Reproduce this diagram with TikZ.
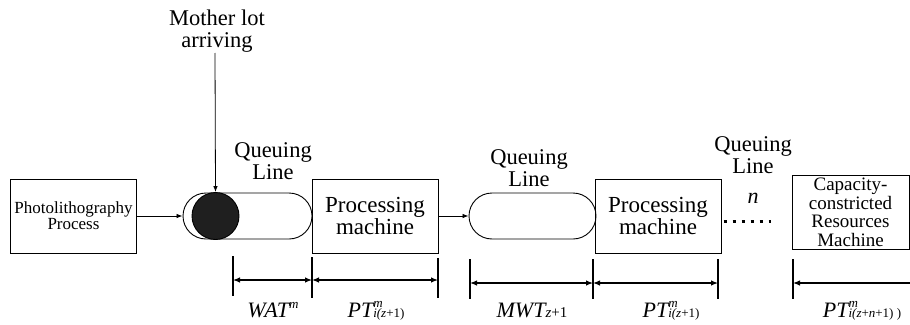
\documentclass[tikz,border=0pt]{standalone}
\usepackage{fontspec}
\setmainfont{Liberation Serif}
\usetikzlibrary{shapes.misc,arrows.meta}
\newcommand\mysupsub[2]{\rlap{\raisebox{10pt}{\fontsize{13}{13}\selectfont\itshape #1}}{\fontsize{13}{13}\selectfont #2}}
\begin{document}
\begin{tikzpicture}[x=1pt,y=-1pt,
 box/.style={draw,line width=0.9pt,inner sep=0,align=center},
 queue/.style={draw,rounded rectangle,line width=0.9pt,inner sep=0,minimum height=46pt},
 flow/.style={line width=0.8pt,-{Latex[length=6pt,width=4.5pt]}},
 tick/.style={line width=2pt},
 dim/.style={line width=1.2pt,{Latex[length=7pt,width=5.5pt]}-{Latex[length=7pt,width=5.5pt]}},
 lbl/.style={font=\fontsize{22.5}{22}\selectfont,align=center,inner sep=0},
 mlbl/.style={font=\fontsize{22}{22}\selectfont\itshape,inner sep=0,anchor=base},
]
\useasboundingbox (0,0) rectangle (910,324);
\clip (0,0) rectangle (910,324);

% boxes
\node[box,minimum width=126pt,minimum height=74pt,font=\fontsize{17}{16}\selectfont] (photo) at (73.5,216) {Photolithography\\Process};
\node[queue,minimum width=129pt] (q1) at (247.5,216) {};
\node[circle,draw,fill=black!88,line width=0.9pt,minimum size=47pt,inner sep=0] (dot) at (215.5,216) {};
\node[box,minimum width=126pt,minimum height=74pt,font=\fontsize{23}{22}\selectfont] (pm1) at (375,216) {Processing\\machine};
\node[queue,minimum width=127pt] (q2) at (532.5,216) {};
\node[box,minimum width=126pt,minimum height=74pt,font=\fontsize{23}{22}\selectfont] (pm2) at (658,216) {Processing\\machine};
\node[box,minimum width=117pt,minimum height=74pt,font=\fontsize{19}{18.5}\selectfont] (cap) at (850.5,212.5) {Capacity-\\constricted\\Resources\\Machine};

% labels
\node[lbl] (mother) at (217,31) {Mother lot\\arriving};
\node[lbl] (ql1) at (273,161) {Queuing\\Line};
\node[lbl] (ql2) at (529,168) {Queuing\\Line};
\node[lbl] (ql3) at (753,155) {Queuing\\Line};
\node[lbl,font=\fontsize{22}{22}\selectfont\itshape] (nn) at (753,198) {n};

% connectors
\coordinate (mstart) at (215,53);
\draw[flow] (mstart) -- (dot.north);
\draw[flow] (photo.east) -- (q1.west);
\draw[flow] (pm1.east) -- (q2.west);
\coordinate (d0) at (723.5,221);
\coordinate (d1) at (771,221);
\draw[line width=3pt,dash pattern=on 3pt off 6pt] (d0) -- (d1);

% dimension ticks
\coordinate (t1a) at (233,256); \coordinate (t1b) at (233,296);
\coordinate (t2a) at (312,257); \coordinate (t2b) at (312,298);
\coordinate (t3a) at (438,258); \coordinate (t3b) at (438,298);
\coordinate (t4a) at (470,259); \coordinate (t4b) at (470,299);
\coordinate (t5a) at (593,259); \coordinate (t5b) at (593,299);
\coordinate (t6a) at (718,259); \coordinate (t6b) at (718,299);
\coordinate (t7a) at (793,259); \coordinate (t7b) at (793,299);
\foreach \i in {1,...,7} {\draw[tick] (t\i a) -- (t\i b);}

\coordinate (a1) at (233,280); \coordinate (a2) at (312,280); \coordinate (a3) at (438,280);
\coordinate (b1) at (470,283); \coordinate (b2) at (593,283); \coordinate (b3) at (718,283);
\coordinate (c1) at (793,283); \coordinate (c2) at (915,283);
\draw[dim] (a1) -- (a2);
\draw[dim] (a2) -- (a3);
\draw[dim] (b1) -- (b2);
\draw[dim] (b2) -- (b3);
\draw[line width=1.2pt,{Latex[length=7pt,width=5.5pt]}-] (c1) -- (c2);

% dimension labels
\node[mlbl] (l1) at (273,317) {WAT\raisebox{9pt}{\fontsize{13}{13}\selectfont m}};
\node[mlbl] (l2) at (376,317) {PT\mysupsub{m}{i(z\upshape+1)}};
\node[mlbl] (l3) at (532,317) {MWT{\fontsize{15}{15}\selectfont z\upshape+1}};
\node[mlbl] (l4) at (671,317) {PT\mysupsub{m}{i(z\upshape+1)}};
\node[mlbl] (l5) at (862,317) {PT\mysupsub{m}{i(z\upshape+\itshape n\upshape+1) )}};
\end{tikzpicture}
\end{document}
